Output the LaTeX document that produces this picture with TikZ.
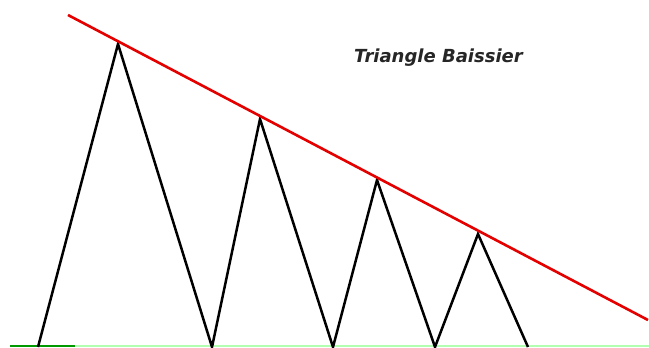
\documentclass[tikz,border=0pt]{standalone}
\usepackage{fontspec}
\newfontfamily\labelfont{DejaVu Sans}
\begin{document}
\begin{tikzpicture}[
		x=1bp, y=-1bp,
		zigzag/.style={draw, black, line width=2.5bp, line join=miter},
		trend/.style={draw, red!90!black, line width=2.6bp},
		base/.style={draw, green!60!black, line width=1.2bp},
		every node/.style={font=\labelfont\bfseries\itshape\fontsize{18bp}{21bp}\selectfont}
		]
		
		% Cadre
		\useasboundingbox (0,0) rectangle (649,347);
		
		% Sommets du zigzag
		\coordinate (b0) at (38,347);
		\coordinate (p1) at (118,44);
		\coordinate (b1) at (212,347);
		\coordinate (p2) at (260,119);
		\coordinate (b2) at (333,347);
		\coordinate (p3) at (377,180);
		\coordinate (b3) at (435,347);
		\coordinate (p4) at (478,234);
		\coordinate (b4) at (528,347);
		
		% Ligne de base
		\coordinate (g0) at (10,346);
		\coordinate (g1) at (75,346);
		\coordinate (g2) at (649,346);
		\draw[base, green!30] (g0) -- (g2);
		\draw[base] (g0) -- (g1);
		
		% Zigzag
		\draw[zigzag] (b0) -- (p1) -- (b1) -- (p2) -- (b2) -- (p3) -- (b3) -- (p4) -- (b4);
		
		% Droite de tendance
		\coordinate (t0) at (68,15);
		\coordinate (t1) at (648,320);
		\draw[trend] (t0) -- (t1);
		
		% Titre
		\node[anchor=west, inner sep=0pt, text=black!85] (title) at (354,58) {Triangle Baissier};
		
	\end{tikzpicture}
\end{document}
